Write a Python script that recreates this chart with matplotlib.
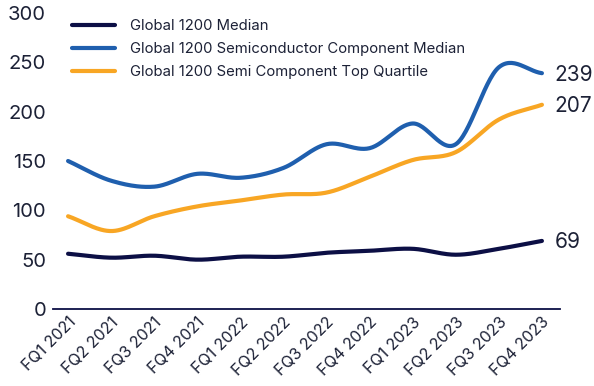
import matplotlib.pyplot as plt
import numpy as np
from matplotlib.transforms import ScaledTranslation

plt.rcParams["font.family"] = ["Inter", "DejaVu Sans"]

quarters = ["FQ1 2021", "FQ2 2021", "FQ3 2021", "FQ4 2021",
            "FQ1 2022", "FQ2 2022", "FQ3 2022", "FQ4 2022",
            "FQ1 2023", "FQ2 2023", "FQ3 2023", "FQ4 2023"]
global_median = [56, 52, 54, 50, 53, 53, 57, 59, 61, 55, 61, 69]
semi_median = [150, 130, 124, 137, 133, 143, 167, 163, 188, 167, 245, 239]
semi_top_quartile = [94, 79, 94, 104, 110, 116, 118, 134, 151, 159, 192, 207]

series_names = ["Global 1200 Median",
                "Global 1200 Semiconductor Component Median",
                "Global 1200 Semi Component Top Quartile"]
yticks = [0, 50, 100, 150, 200, 250, 300]

NAVY = "#0c0f45"
BLUE = "#1f5fae"
ORANGE = "#f8a624"
TEXT = "#1c2136"


def smooth(x, y, n=30):
    """Catmull-Rom curve through the points, like a smoothed line chart."""
    x = np.asarray(x, float)
    y = np.asarray(y, float)
    px = np.concatenate([[2 * x[0] - x[1]], x, [2 * x[-1] - x[-2]]])
    py = np.concatenate([[2 * y[0] - y[1]], y, [2 * y[-1] - y[-2]]])
    t = np.linspace(0, 1, n, endpoint=False)
    xs, ys = [], []
    for i in range(1, len(px) - 2):
        for p, out in ((px, xs), (py, ys)):
            p0, p1, p2, p3 = p[i - 1], p[i], p[i + 1], p[i + 2]
            out.append(0.5 * (2 * p1 + (-p0 + p2) * t
                              + (2 * p0 - 5 * p1 + 4 * p2 - p3) * t**2
                              + (-p0 + 3 * p1 - 3 * p2 + p3) * t**3))
    xs.append([x[-1]])
    ys.append([y[-1]])
    return np.concatenate(xs), np.concatenate(ys)


fig = plt.figure(figsize=(5.94, 3.86), dpi=100)
ax = fig.add_axes([0.0892, 0.1995, 0.8536, 0.7668])

x = np.arange(len(quarters))
for vals, color, name in ((global_median, NAVY, series_names[0]),
                          (semi_median, BLUE, series_names[1]),
                          (semi_top_quartile, ORANGE, series_names[2])):
    sx, sy = smooth(x, vals)
    ax.plot(sx, sy, color=color, lw=3.0, solid_capstyle="round", label=name)
    ax.annotate(f"{vals[-1]}", (x[-1], vals[-1]), xytext=(9, -1),
                textcoords="offset points", ha="left", va="center",
                fontsize=15, color=TEXT)

ax.set_xlim(-0.35, 11.42)
ax.set_ylim(0, 300)
ax.set_yticks(yticks)
ax.set_xticks(x)
ax.set_xticklabels(quarters, rotation=45, ha="right", va="top",
                   rotation_mode="anchor", fontsize=11.5, color=TEXT)
offset = ScaledTranslation(12 / 100, -2 / 100, fig.dpi_scale_trans)
for lab in ax.get_xticklabels():
    lab.set_transform(lab.get_transform() + offset)

ax.tick_params(axis="both", length=0)
ax.tick_params(axis="y", labelsize=14.5, labelcolor=TEXT, pad=5)
ax.tick_params(axis="x", pad=4)
for side in ("top", "right", "left"):
    ax.spines[side].set_visible(False)
ax.spines["bottom"].set_color(NAVY)
ax.spines["bottom"].set_linewidth(1.3)

leg = ax.legend(loc="upper left", bbox_to_anchor=(0.02, 1.01), frameon=False,
                fontsize=10.7, handlelength=2.9, handletextpad=1.0,
                labelspacing=0.6, borderaxespad=0.2)
for t in leg.get_texts():
    t.set_color(TEXT)

fig.savefig("out.png", dpi=100)
